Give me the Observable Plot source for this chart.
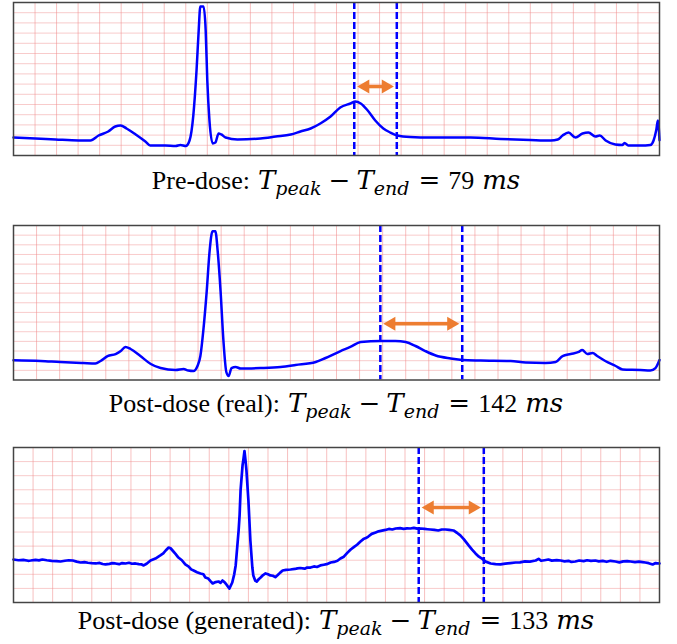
<!DOCTYPE html>
<html><head><meta charset="utf-8">
<script src="https://cdn.jsdelivr.net/npm/d3@7"></script>
<script src="https://cdn.jsdelivr.net/npm/@observablehq/plot@0.6"></script>
<style>
body{margin:0;background:#fff;}
#root{position:relative;width:677px;height:644px;overflow:hidden;background:#fff;}
.panel{position:absolute;left:0;}
#caps{position:absolute;left:0;top:0;}
.ser{font-family:"Liberation Serif","Times New Roman",Times,serif;}
.mth{font-family:"DejaVu Serif","Liberation Serif",serif;}
</style>
</head><body>
<div id="root"></div>
<script>
// ---- data (time in ms, amplitude in mV) ----
const preT = [0,41,78,121,143,158,176,189,199,210,227,245,254,282,301,310,320,327,334,340,344,347,353,357,360,364,370,375,381,386,394,416,459,487,515,533,552,570,589,607,626,635,645,658,672,687,700,713,737,775,849,905,960,998,1011,1020,1031,1044,1057,1068,1081,1089,1100,1118,1131,1135,1142,1165,1183,1189,1194,1197,1200];
const preV = [0.176,0.167,0.157,0.147,0.147,0.196,0.235,0.284,0.294,0.265,0.206,0.137,0.098,0.098,0.093,0.103,0.093,0.147,0.392,0.833,1.225,1.461,1.461,1.225,0.735,0.343,0.118,0.127,0.216,0.206,0.176,0.157,0.167,0.186,0.206,0.235,0.265,0.314,0.382,0.471,0.510,0.529,0.510,0.441,0.343,0.265,0.225,0.196,0.181,0.176,0.176,0.162,0.152,0.147,0.157,0.196,0.225,0.176,0.216,0.225,0.186,0.196,0.147,0.108,0.103,0.123,0.098,0.098,0.103,0.147,0.25,0.343,0.15];

const realT = [0,47,81,121,142,151,163,177,186,194,203,220,238,255,281,295,303,312,319,324,329,335,340,345,350,354,359,364,369,373,378,385,394,428,463,489,524,541,567,584,602,636,662,680,697,714,732,758,778,810,862,888,922,940,952,966,980,986,995,1004,1012,1026,1044,1056,1087,1104,1113,1120];
const realV = [0.204,0.197,0.186,0.176,0.171,0.197,0.248,0.269,0.300,0.342,0.321,0.248,0.166,0.124,0.104,0.114,0.098,0.093,0.145,0.248,0.507,0.921,1.335,1.540,1.540,1.335,0.921,0.404,0.083,0.041,0.124,0.135,0.119,0.124,0.135,0.155,0.186,0.228,0.300,0.342,0.393,0.404,0.404,0.393,0.352,0.300,0.254,0.223,0.207,0.202,0.197,0.181,0.176,0.186,0.248,0.269,0.290,0.311,0.269,0.280,0.248,0.197,0.145,0.109,0.104,0.098,0.124,0.207];

const genT = [0,10,20,30,35,45,52,59,68,78,88,96,105,113,121,129,137,145,152,160,168,176,182,188,196,202,208,216,222,229,236,242,249,256,262,266,272,280,290,300,306,311,317,321,325,331,337,344,351,358,363,368,375,382,388,392,398,403,407,413,419,423,427,431,435,441,447,451,454,460,462,464,468,470,472,474,476,480,484,488,490,494,497,501,505,510,515,520,525,530,535,540,545,550,557,566,575,580,586,595,600,607,614,620,627,634,640,648,655,662,668,675,682,689,696,702,709,715,720,725,732,740,746,753,760,767,774,781,790,797,804,811,818,825,832,840,846,852,860,868,875,883,890,899,906,913,920,930,937,944,951,958,965,975,985,995,1005,1015,1026,1035,1045,1055,1067,1073,1078,1085,1093,1100,1110,1118,1126,1134,1140,1148,1156,1165,1172,1180,1189,1196,1204,1212,1220,1230,1238,1246,1254,1261,1270,1278,1285,1291,1298,1306,1312,1320];
const genV = [0.305,0.300,0.302,0.296,0.298,0.303,0.299,0.305,0.300,0.296,0.294,0.291,0.296,0.300,0.298,0.290,0.284,0.287,0.282,0.279,0.277,0.281,0.273,0.270,0.274,0.279,0.277,0.272,0.280,0.277,0.282,0.275,0.277,0.272,0.270,0.263,0.275,0.298,0.312,0.334,0.348,0.369,0.390,0.385,0.369,0.345,0.319,0.300,0.270,0.255,0.235,0.227,0.215,0.206,0.200,0.177,0.170,0.150,0.135,0.145,0.149,0.140,0.156,0.145,0.128,0.099,0.142,0.200,0.263,0.511,0.620,0.795,0.972,1.020,1.075,1.010,0.937,0.724,0.440,0.250,0.192,0.155,0.149,0.165,0.177,0.195,0.206,0.200,0.192,0.190,0.180,0.195,0.212,0.227,0.232,0.234,0.238,0.242,0.245,0.240,0.248,0.248,0.256,0.252,0.263,0.268,0.272,0.284,0.288,0.296,0.312,0.325,0.352,0.376,0.395,0.410,0.433,0.450,0.457,0.468,0.487,0.497,0.505,0.510,0.515,0.522,0.518,0.525,0.528,0.523,0.526,0.525,0.530,0.524,0.525,0.522,0.520,0.518,0.515,0.511,0.518,0.518,0.515,0.511,0.495,0.476,0.450,0.405,0.375,0.348,0.325,0.309,0.290,0.277,0.272,0.270,0.276,0.280,0.284,0.285,0.292,0.290,0.298,0.310,0.296,0.300,0.305,0.297,0.301,0.298,0.292,0.296,0.288,0.291,0.298,0.294,0.300,0.296,0.298,0.292,0.295,0.289,0.296,0.291,0.285,0.292,0.294,0.291,0.286,0.290,0.287,0.284,0.279,0.270,0.280,0.277];

const durations = [1200, 1120, 1320];     // ms shown in each strip
const ampRanges = [1.5, 1.6, 1.1];        // mV shown in each strip
const tPeaks = [633, 636, 828];           // ms
const intervals = [79, 142, 133];         // Tpeak - Tend, ms
const arrowLevels = [0.676, 0.583, 0.674];// mV
const prefixes = ["Pre-dose:", "Post-dose (real):", "Post-dose (generated):"];

// ---- layout ----
const layout = [
  {top: 0, h: 153, lw: 2.5, curve: "monotone-x"},
  {top: 222.5, h: 154.5, lw: 2.5, curve: "monotone-x"},
  {top: 445, h: 155, lw: 2.7, curve: "linear"}
];
const baselines = [188.5, 412, 628.5];
const series = [[preT, preV], [realT, realV], [genT, genV]];

const root = document.getElementById("root");
const BLUE = "#0000ff", ORANGE = "#ed7d31", GRID = "#f08c8c";

series.forEach(([T, V], i) => {
  const D = durations[i], R = ampRanges[i], L = layout[i];
  const data = T.map((t, k) => ({t, v: V[k]}));
  const tp = tPeaks[i], te = tPeaks[i] + intervals[i], ay = arrowLevels[i];
  const rows = Math.round(R * 10);
  const svg = Plot.plot({
    width: 677, height: L.h + 4,
    marginLeft: 13, marginRight: 18, marginTop: 2, marginBottom: 2,
    x: {domain: [0, D], axis: null},
    y: {domain: [0, R], axis: null},
    marks: [
      Plot.gridX(d3.range(40, D, 40), {stroke: GRID, strokeOpacity: 0.55, strokeWidth: 1}),
      Plot.gridY(d3.range(1, rows).map(k => k / 10), {stroke: GRID, strokeOpacity: 0.45, strokeWidth: 1}),
      Plot.line(data, {x: "t", y: "v", stroke: BLUE, strokeWidth: L.lw, curve: L.curve}),
      Plot.ruleX([tp, te], {stroke: BLUE, strokeWidth: 2.5, strokeDasharray: "7,3"}),
      Plot.ruleY([{y: ay, x1: tp, x2: te}], {y: "y", x1: "x1", x2: "x2", stroke: ORANGE, strokeWidth: 3.5, insetLeft: 9, insetRight: 9}),
      Plot.dot([{x: tp, y: ay}], {x: "x", y: "y", symbol: "triangle", r: 5.2, fill: ORANGE, stroke: "none", rotate: -90, dx: 11}),
      Plot.dot([{x: te, y: ay}], {x: "x", y: "y", symbol: "triangle", r: 5.2, fill: ORANGE, stroke: "none", rotate: 90, dx: -11}),
      Plot.frame({stroke: "#444", strokeWidth: 1.5})
    ]
  });
  svg.classList.add("panel");
  svg.style.top = L.top + "px";
  root.appendChild(svg);
});

// ---- captions ----
const caps = d3.select(root).append("svg").attr("id", "caps").attr("width", 677).attr("height", 644);
prefixes.forEach((p, i) => {
  const txt = caps.append("text").attr("x", 336).attr("y", baselines[i])
    .attr("text-anchor", "middle").style("fill", "#000");
  const add = (s, o) => {
    const ts = txt.append("tspan").text(s)
      .attr("class", o.m ? "mth" : "ser")
      .style("font-size", (o.s || 26) + "px")
      .style("font-style", o.it ? "italic" : "normal");
    if (o.dx) ts.attr("dx", o.dx);
    if (o.dy) ts.attr("dy", o.dy);
  };
  add(p, {});
  add("T", {m: true, it: true, dx: 8});
  add("peak", {m: true, it: true, s: 19, dy: 6});
  add("\u2212", {m: true, dx: 7, dy: -6});
  add("T", {m: true, it: true, dx: 6});
  add("end", {m: true, it: true, s: 19, dy: 6});
  add("=", {m: true, dx: 9, dy: -6});
  add(String(intervals[i]), {dx: 8});
  add("ms", {m: true, it: true, dx: 8});
});
</script>
</body></html>
